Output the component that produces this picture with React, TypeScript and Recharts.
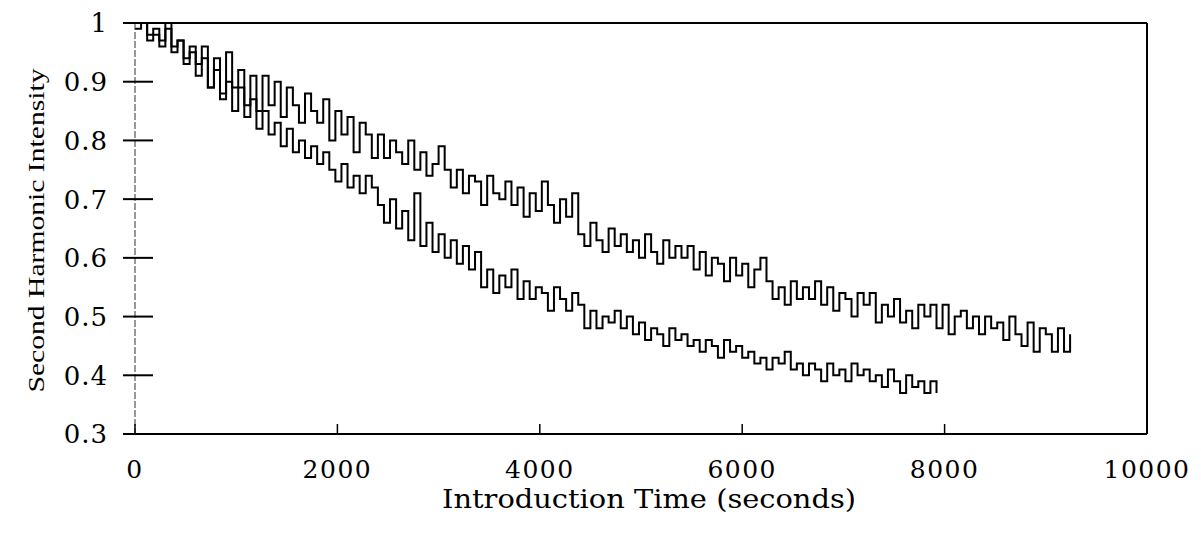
import React from 'react';
import { LineChart, Line, XAxis, YAxis, ReferenceLine } from 'recharts';

const SAMPLE_INTERVAL = 60; // seconds between readings

const X_TICKS = [0, 2000, 4000, 6000, 8000, 10000];
const Y_TICKS = [0.3, 0.4, 0.5, 0.6, 0.7, 0.8, 0.9, 1];
const X_LABEL = 'Introduction Time (seconds)';
const Y_LABEL = 'Second Harmonic Intensity';

// upper trace, 0 .. 9240 s
const upperSeries = [
  1.0, 1.01, 0.98, 0.99, 0.97, 1.0, 0.96, 0.97, 0.94, 0.95,
  0.93, 0.96, 0.89, 0.94, 0.88, 0.95, 0.89, 0.92, 0.86, 0.91,
  0.85, 0.91, 0.86, 0.9, 0.84, 0.89, 0.86, 0.83, 0.88, 0.85,
  0.83, 0.87, 0.8, 0.85, 0.81, 0.84, 0.78, 0.83, 0.81, 0.77,
  0.81, 0.77, 0.8, 0.78, 0.76, 0.8, 0.75, 0.78, 0.74, 0.76,
  0.79, 0.75, 0.72, 0.75, 0.71, 0.74, 0.73, 0.69, 0.74, 0.71,
  0.7, 0.73, 0.69, 0.72, 0.67, 0.71, 0.68, 0.73, 0.69, 0.66,
  0.7, 0.67, 0.71, 0.64, 0.62, 0.66, 0.63, 0.61, 0.65, 0.62,
  0.64, 0.61, 0.63, 0.6, 0.64, 0.61, 0.59, 0.63, 0.6, 0.62,
  0.6, 0.62, 0.58, 0.61, 0.57, 0.6, 0.59, 0.56, 0.6, 0.57,
  0.59, 0.55, 0.58, 0.6, 0.56, 0.53, 0.55, 0.52, 0.56, 0.53,
  0.55, 0.53, 0.56, 0.52, 0.55, 0.51, 0.54, 0.53, 0.5, 0.54,
  0.52, 0.54, 0.49, 0.52, 0.5, 0.53, 0.49, 0.51, 0.48, 0.52,
  0.5, 0.52, 0.48, 0.52, 0.47, 0.5, 0.51, 0.48, 0.5, 0.47,
  0.5, 0.48, 0.49, 0.46, 0.5, 0.47, 0.45, 0.49, 0.44, 0.48,
  0.47, 0.44, 0.48, 0.44, 0.47,
];

// lower trace, 0 .. 7920 s
const lowerSeries = [
  0.99, 1.0, 0.97, 0.98, 0.96, 0.99, 0.95, 0.97, 0.93, 0.96,
  0.91, 0.94, 0.89, 0.92, 0.87, 0.9, 0.85, 0.89, 0.84, 0.87,
  0.82, 0.85, 0.81, 0.83, 0.79, 0.82, 0.78, 0.8, 0.77, 0.79,
  0.76, 0.78, 0.75, 0.73, 0.76, 0.72, 0.74, 0.71, 0.74, 0.72,
  0.69, 0.66, 0.7, 0.65, 0.68, 0.63, 0.71, 0.62, 0.66, 0.61,
  0.64, 0.6, 0.63, 0.59, 0.62, 0.58, 0.61, 0.55, 0.58, 0.54,
  0.57, 0.55, 0.58, 0.53, 0.56, 0.53, 0.55, 0.54, 0.51, 0.55,
  0.53, 0.51, 0.54, 0.52, 0.48, 0.51, 0.48, 0.5, 0.49, 0.51,
  0.48, 0.5, 0.47, 0.49, 0.46, 0.48, 0.47, 0.45, 0.48, 0.46,
  0.47, 0.45, 0.46, 0.44, 0.46, 0.45, 0.43, 0.46, 0.44, 0.45,
  0.43, 0.44, 0.42, 0.43, 0.41, 0.43, 0.42, 0.44, 0.41, 0.42,
  0.4, 0.42, 0.41, 0.39, 0.42, 0.4, 0.41, 0.39, 0.42, 0.4,
  0.41, 0.39, 0.4, 0.38, 0.41, 0.39, 0.37, 0.4, 0.38, 0.39,
  0.37, 0.39, 0.37,
];

const toPoints = (vals: number[]) => vals.map((v, i) => ({ t: i * SAMPLE_INTERVAL, v }));
const upperData = toPoints(upperSeries);
const lowerData = toPoints(lowerSeries);

const YTick = (props: any) => {
  const { x, y, payload } = props;
  return (
    <g>
      <line x1={x - 12} x2={x + 18} y1={y} y2={y} stroke="#000" strokeWidth={2} />
      <text
        x={x - 27}
        y={y}
        dy="0.36em"
        textAnchor="end"
        fontFamily="DejaVu Serif"
        fontSize={26}
        letterSpacing={1}
        fill="#000"
      >
        {String(payload.value)}
      </text>
    </g>
  );
};

const XTick = (props: any) => {
  const { x, y, payload } = props;
  return (
    <g>
      <line x1={x} x2={x} y1={y - 10} y2={y} stroke="#000" strokeWidth={1.5} />
      <text
        x={x}
        y={y + 44}
        textAnchor="middle"
        fontFamily="DejaVu Serif"
        fontSize={25}
        letterSpacing={1.5}
        fill="#000"
      >
        {String(payload.value)}
      </text>
    </g>
  );
};

const XTitle = (props: any) => {
  const vb = props.viewBox || {};
  const cx = vb.x + vb.width / 2 + 8;
  const by = vb.y + 74;
  return (
    <text
      x={cx}
      y={by}
      textAnchor="middle"
      fontFamily="DejaVu Serif"
      fontSize={26}
      textLength={414}
      lengthAdjust="spacingAndGlyphs"
      fill="#000"
    >
      {X_LABEL}
    </text>
  );
};

const YTitle = (props: any) => {
  const vb = props.viewBox || {};
  const cx = 36;
  const cy = vb.y + vb.height / 2 + 2;
  return (
    <text
      x={cx}
      y={cy}
      transform={`rotate(-90, ${cx}, ${cy})`}
      textAnchor="middle"
      fontFamily="Liberation Serif"
      fontSize={24}
      textLength={324}
      lengthAdjust="spacingAndGlyphs"
      fill="#000"
    >
      {Y_LABEL}
    </text>
  );
};

export default function App() {
  return (
    <div style={{ width: 1185, height: 519, background: '#fff' }}>
      <LineChart
        width={1185}
        height={519}
        margin={{ top: 15, right: 46, bottom: 0, left: 0 }}
      >
        <XAxis
          type="number"
          dataKey="t"
          domain={[0, 10000]}
          ticks={X_TICKS}
          interval={0}
          height={93}
          tickSize={0}
          tickMargin={0}
          tickLine={false}
          tick={<XTick />}
          axisLine={{ stroke: '#000', strokeWidth: 2 }}
          label={{ value: X_LABEL, content: (p: any) => <XTitle {...p} /> }}
        />
        <YAxis
          type="number"
          dataKey="v"
          domain={[0.3, 1]}
          allowDataOverflow
          ticks={Y_TICKS}
          interval={0}
          width={127}
          tickSize={0}
          tickMargin={0}
          tickLine={false}
          tick={<YTick />}
          axisLine={{ stroke: '#333', strokeWidth: 1, strokeDasharray: '7 2' }}
          label={{ value: Y_LABEL, content: (p: any) => <YTitle {...p} /> }}
        />
        <ReferenceLine y={1} stroke="#000" strokeWidth={2} />
        <ReferenceLine x={10000} stroke="#000" strokeWidth={2} />
        <Line
          data={upperData}
          dataKey="v"
          type="stepAfter"
          stroke="#000"
          strokeWidth={2}
          dot={false}
          isAnimationActive={false}
        />
        <Line
          data={lowerData}
          dataKey="v"
          type="stepAfter"
          stroke="#000"
          strokeWidth={2}
          dot={false}
          isAnimationActive={false}
        />
      </LineChart>
    </div>
  );
}
